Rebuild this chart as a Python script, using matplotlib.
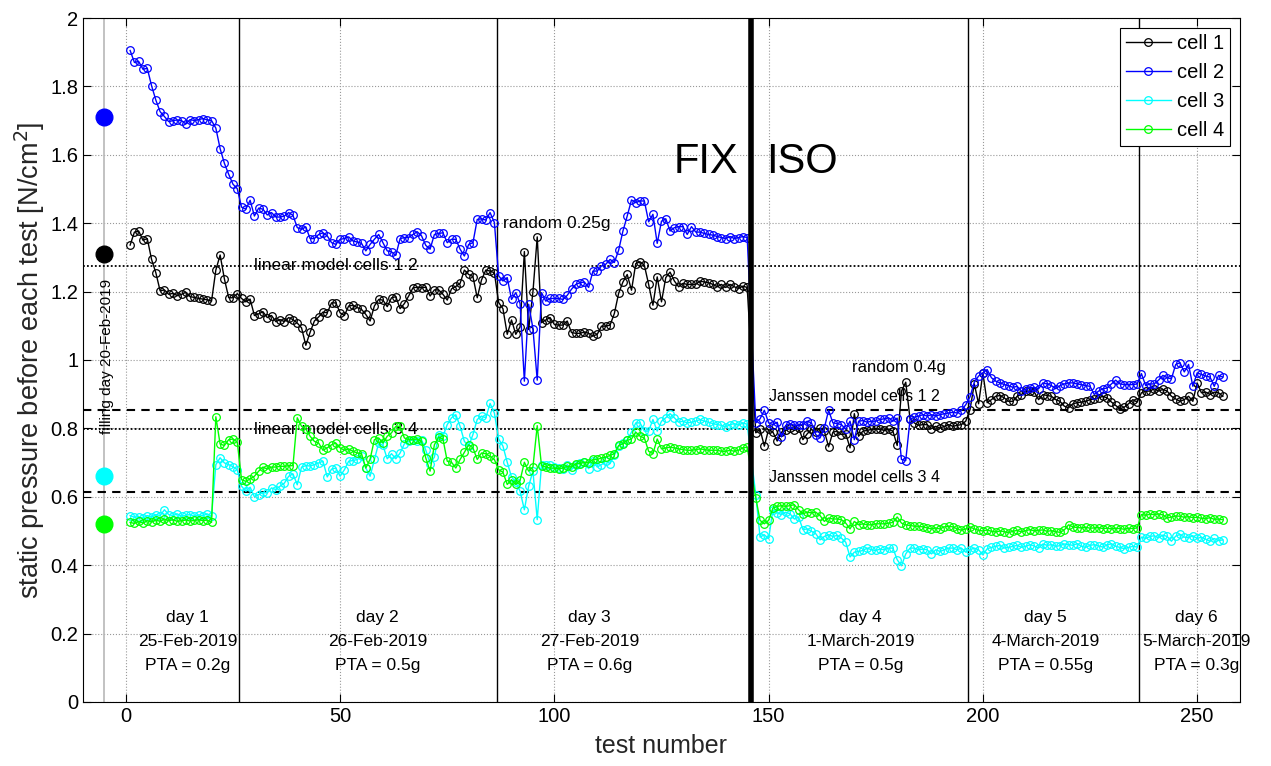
import numpy as np
import matplotlib
matplotlib.use("Agg")
import matplotlib.pyplot as plt

plt.rcParams['font.family'] = ['Liberation Sans', 'DejaVu Sans']

# test numbers covered by each test day (first, last)
day_ranges = [(1, 26), (27, 86), (87, 145), (147, 196), (197, 236), (237, 256)]

# static pressure per cell [N/cm^2], day by day
cell1 = [
    # day 1
    1.336, 1.374, 1.377, 1.350, 1.355, 1.294, 1.255, 1.202, 1.205, 1.192,
    1.195, 1.188, 1.192, 1.198, 1.185, 1.183, 1.180, 1.178, 1.176, 1.172,
    1.263, 1.307, 1.237, 1.182, 1.182, 1.194,
    # day 2
    1.180, 1.170, 1.178, 1.130, 1.135, 1.141, 1.124, 1.130, 1.112, 1.118,
    1.112, 1.124, 1.118, 1.108, 1.094, 1.043, 1.081, 1.114, 1.126, 1.140,
    1.138, 1.167, 1.167, 1.138, 1.130, 1.158, 1.160, 1.153, 1.148, 1.133,
    1.114, 1.158, 1.177, 1.175, 1.156, 1.182, 1.185, 1.150, 1.165, 1.187,
    1.211, 1.213, 1.211, 1.213, 1.187, 1.205, 1.205, 1.192, 1.175, 1.208,
    1.215, 1.224, 1.263, 1.250, 1.244, 1.182, 1.234, 1.263, 1.260, 1.255,
    # day 3
    1.168, 1.150, 1.075, 1.117, 1.075, 1.097, 1.317, 1.089, 1.199, 1.360,
    1.109, 1.117, 1.124, 1.104, 1.102, 1.102, 1.114, 1.080, 1.078, 1.078,
    1.082, 1.078, 1.070, 1.075, 1.099, 1.099, 1.102, 1.136, 1.195, 1.228,
    1.250, 1.204, 1.282, 1.287, 1.277, 1.221, 1.160, 1.243, 1.170, 1.241,
    1.257, 1.231, 1.214, 1.224, 1.221, 1.221, 1.221, 1.231, 1.228, 1.226,
    1.221, 1.214, 1.221, 1.212, 1.221, 1.214, 1.209, 1.216, 1.212,
    # day 4
    0.787, 0.797, 0.748, 0.797, 0.789, 0.763, 0.789, 0.794, 0.801, 0.794,
    0.801, 0.767, 0.784, 0.797, 0.789, 0.801, 0.792, 0.746, 0.789, 0.792,
    0.782, 0.784, 0.743, 0.843, 0.777, 0.792, 0.794, 0.797, 0.799, 0.797,
    0.794, 0.797, 0.792, 0.750, 0.909, 0.935, 0.828, 0.816, 0.809, 0.811,
    0.811, 0.799, 0.806, 0.801, 0.806, 0.811, 0.806, 0.809, 0.811, 0.821,
    # day 5
    0.855, 0.930, 0.872, 0.962, 0.875, 0.884, 0.894, 0.896, 0.889, 0.879,
    0.879, 0.894, 0.899, 0.909, 0.909, 0.906, 0.884, 0.899, 0.896, 0.894,
    0.884, 0.879, 0.865, 0.860, 0.872, 0.875, 0.877, 0.879, 0.884, 0.886,
    0.889, 0.894, 0.889, 0.877, 0.867, 0.857, 0.862, 0.872, 0.884, 0.877,
    # day 6
    0.904, 0.909, 0.909, 0.916, 0.909, 0.914, 0.909, 0.894, 0.886, 0.879,
    0.884, 0.894, 0.879, 0.933, 0.904, 0.906, 0.899, 0.906, 0.904, 0.894,
]

cell2 = [
    1.905, 1.870, 1.873, 1.850, 1.853, 1.802, 1.760, 1.726, 1.712, 1.697,
    1.700, 1.702, 1.700, 1.690, 1.703, 1.700, 1.703, 1.706, 1.702, 1.700,
    1.678, 1.618, 1.575, 1.543, 1.514, 1.501,
    1.447, 1.441, 1.467, 1.421, 1.444, 1.441, 1.424, 1.431, 1.418, 1.418,
    1.421, 1.431, 1.423, 1.387, 1.382, 1.389, 1.355, 1.355, 1.367, 1.372,
    1.363, 1.343, 1.338, 1.353, 1.355, 1.360, 1.348, 1.345, 1.341, 1.319,
    1.338, 1.353, 1.367, 1.343, 1.319, 1.316, 1.306, 1.355, 1.358, 1.358,
    1.367, 1.375, 1.363, 1.335, 1.324, 1.367, 1.370, 1.372, 1.343, 1.353,
    1.353, 1.324, 1.304, 1.338, 1.343, 1.411, 1.413, 1.409, 1.431, 1.402,
    1.246, 1.231, 1.241, 1.177, 1.197, 1.165, 0.938, 1.163, 1.092, 0.941,
    1.197, 1.172, 1.180, 1.180, 1.180, 1.177, 1.189, 1.207, 1.221, 1.226,
    1.228, 1.212, 1.260, 1.260, 1.275, 1.280, 1.294, 1.285, 1.321, 1.377,
    1.421, 1.468, 1.460, 1.465, 1.465, 1.404, 1.426, 1.341, 1.406, 1.413,
    1.377, 1.387, 1.390, 1.390, 1.367, 1.390, 1.374, 1.374, 1.370, 1.367,
    1.365, 1.361, 1.358, 1.355, 1.361, 1.355, 1.358, 1.361, 1.358,
    0.816, 0.828, 0.853, 0.816, 0.811, 0.818, 0.775, 0.809, 0.814, 0.809,
    0.809, 0.811, 0.821, 0.816, 0.782, 0.772, 0.801, 0.853, 0.816, 0.814,
    0.811, 0.797, 0.821, 0.767, 0.821, 0.823, 0.818, 0.821, 0.821, 0.826,
    0.828, 0.831, 0.821, 0.830, 0.709, 0.706, 0.826, 0.833, 0.836, 0.840,
    0.836, 0.840, 0.836, 0.840, 0.843, 0.845, 0.847, 0.845, 0.853, 0.869,
    0.892, 0.935, 0.953, 0.962, 0.972, 0.948, 0.938, 0.933, 0.928, 0.925,
    0.920, 0.923, 0.909, 0.914, 0.918, 0.920, 0.916, 0.933, 0.930, 0.925,
    0.916, 0.925, 0.930, 0.933, 0.933, 0.930, 0.928, 0.925, 0.923, 0.899,
    0.909, 0.916, 0.918, 0.930, 0.941, 0.930, 0.928, 0.928, 0.928, 0.930,
    0.960, 0.925, 0.930, 0.930, 0.941, 0.955, 0.948, 0.945, 0.987, 0.992,
    0.965, 0.987, 0.923, 0.962, 0.958, 0.953, 0.950, 0.923, 0.955, 0.950,
]

cell3 = [
    0.545, 0.540, 0.542, 0.538, 0.545, 0.540, 0.548, 0.545, 0.562, 0.548,
    0.545, 0.550, 0.543, 0.546, 0.548, 0.543, 0.547, 0.545, 0.550, 0.543,
    0.694, 0.714, 0.699, 0.694, 0.688, 0.679,
    0.631, 0.616, 0.628, 0.600, 0.606, 0.613, 0.611, 0.626, 0.621, 0.631,
    0.640, 0.660, 0.667, 0.635, 0.687, 0.691, 0.690, 0.694, 0.699, 0.704,
    0.658, 0.681, 0.684, 0.660, 0.679, 0.704, 0.706, 0.709, 0.718, 0.684,
    0.660, 0.709, 0.757, 0.750, 0.711, 0.726, 0.711, 0.728, 0.755, 0.762,
    0.767, 0.762, 0.767, 0.736, 0.697, 0.716, 0.782, 0.777, 0.811, 0.831,
    0.840, 0.806, 0.762, 0.748, 0.782, 0.826, 0.836, 0.831, 0.873, 0.845,
    0.769, 0.748, 0.701, 0.658, 0.643, 0.616, 0.562, 0.631, 0.675, 0.533,
    0.694, 0.694, 0.694, 0.687, 0.684, 0.682, 0.694, 0.679, 0.694, 0.699,
    0.701, 0.682, 0.704, 0.687, 0.694, 0.704, 0.697, 0.721, 0.748, 0.758,
    0.767, 0.789, 0.816, 0.816, 0.792, 0.792, 0.826, 0.792, 0.821, 0.831,
    0.843, 0.831, 0.818, 0.821, 0.816, 0.818, 0.821, 0.826, 0.821, 0.818,
    0.814, 0.811, 0.809, 0.804, 0.811, 0.814, 0.809, 0.816, 0.812,
    0.606, 0.482, 0.489, 0.477, 0.562, 0.553, 0.548, 0.555, 0.550, 0.535,
    0.541, 0.504, 0.506, 0.499, 0.492, 0.474, 0.484, 0.489, 0.484, 0.487,
    0.479, 0.467, 0.424, 0.438, 0.440, 0.443, 0.450, 0.445, 0.443, 0.447,
    0.445, 0.450, 0.450, 0.416, 0.398, 0.433, 0.450, 0.450, 0.445, 0.447,
    0.445, 0.433, 0.445, 0.440, 0.445, 0.450, 0.450, 0.445, 0.450, 0.438,
    0.445, 0.450, 0.445, 0.430, 0.448, 0.452, 0.455, 0.458, 0.450, 0.452,
    0.455, 0.458, 0.452, 0.455, 0.460, 0.456, 0.450, 0.462, 0.458, 0.460,
    0.455, 0.457, 0.462, 0.460, 0.458, 0.463, 0.455, 0.452, 0.458, 0.460,
    0.456, 0.453, 0.459, 0.463, 0.455, 0.452, 0.448, 0.452, 0.455, 0.453,
    0.482, 0.478, 0.484, 0.486, 0.480, 0.488, 0.484, 0.470, 0.485, 0.490,
    0.482, 0.480, 0.486, 0.478, 0.482, 0.476, 0.470, 0.478, 0.472, 0.474,
]

cell4 = [
    0.525, 0.522, 0.528, 0.523, 0.530, 0.526, 0.532, 0.528, 0.535, 0.530,
    0.533, 0.528, 0.530, 0.532, 0.529, 0.531, 0.533, 0.530, 0.532, 0.525,
    0.834, 0.754, 0.750, 0.767, 0.769, 0.760,
    0.650, 0.645, 0.652, 0.660, 0.675, 0.687, 0.681, 0.687, 0.687, 0.689,
    0.689, 0.691, 0.691, 0.831, 0.806, 0.798, 0.777, 0.762, 0.757, 0.736,
    0.743, 0.752, 0.757, 0.743, 0.736, 0.740, 0.733, 0.728, 0.726, 0.684,
    0.710, 0.767, 0.772, 0.757, 0.777, 0.787, 0.806, 0.806, 0.772, 0.767,
    0.767, 0.769, 0.762, 0.713, 0.675, 0.752, 0.775, 0.769, 0.704, 0.701,
    0.684, 0.709, 0.730, 0.752, 0.743, 0.709, 0.728, 0.726, 0.718, 0.709,
    0.679, 0.672, 0.636, 0.650, 0.636, 0.648, 0.701, 0.675, 0.687, 0.808,
    0.691, 0.687, 0.684, 0.684, 0.682, 0.684, 0.689, 0.687, 0.697, 0.697,
    0.701, 0.699, 0.709, 0.709, 0.714, 0.716, 0.721, 0.726, 0.750, 0.755,
    0.765, 0.769, 0.789, 0.777, 0.772, 0.733, 0.726, 0.769, 0.740, 0.743,
    0.745, 0.743, 0.740, 0.738, 0.736, 0.736, 0.738, 0.740, 0.738, 0.736,
    0.736, 0.736, 0.733, 0.733, 0.736, 0.733, 0.736, 0.743, 0.745,
    0.597, 0.531, 0.521, 0.531, 0.567, 0.572, 0.574, 0.572, 0.574, 0.577,
    0.562, 0.550, 0.555, 0.553, 0.555, 0.545, 0.528, 0.538, 0.535, 0.535,
    0.533, 0.523, 0.506, 0.528, 0.518, 0.521, 0.518, 0.518, 0.521, 0.521,
    0.521, 0.523, 0.525, 0.541, 0.523, 0.518, 0.516, 0.514, 0.514, 0.512,
    0.509, 0.506, 0.509, 0.506, 0.512, 0.514, 0.512, 0.506, 0.502, 0.506,
    0.512, 0.506, 0.502, 0.500, 0.503, 0.499, 0.497, 0.500, 0.498, 0.495,
    0.499, 0.502, 0.497, 0.501, 0.504, 0.500, 0.502, 0.503, 0.499, 0.501,
    0.498, 0.496, 0.503, 0.518, 0.512, 0.510, 0.509, 0.511, 0.508, 0.509,
    0.510, 0.507, 0.508, 0.506, 0.508, 0.507, 0.505, 0.508, 0.507, 0.509,
    0.548, 0.546, 0.549, 0.548, 0.550, 0.547, 0.538, 0.541, 0.544, 0.543,
    0.540, 0.542, 0.539, 0.540, 0.537, 0.536, 0.539, 0.534, 0.535, 0.533,
]

# pressure right after filling (20-Feb-2019), cells 1..4
filling = [1.31, 1.71, 0.66, 0.52]
filling_test = -5

# model levels
linear_12 = 1.275
linear_34 = 0.797
janssen_12 = 0.853
janssen_34 = 0.615

day_names = ['day 1', 'day 2', 'day 3', 'day 4', 'day 5', 'day 6']
day_dates = ['25-Feb-2019', '26-Feb-2019', '27-Feb-2019', '1-March-2019',
             '4-March-2019', '5-March-2019']
day_pta = ['PTA = 0.2g', 'PTA = 0.5g', 'PTA = 0.6g', 'PTA = 0.5g',
           'PTA = 0.55g', 'PTA = 0.3g']

cell_names = ['cell 1', 'cell 2', 'cell 3', 'cell 4']
cell_colors = ['k', (0, 0, 1), (0, 1, 1), (0, 1, 0)]

test_no = np.concatenate([np.arange(a, b + 1) for a, b in day_ranges])

fig = plt.figure(figsize=(12.71, 7.66), dpi=100)
ax = fig.add_axes([0.0653, 0.0836, 0.9103, 0.8929])

# filling day marker line and dots
ax.axvline(filling_test, color=(0.72, 0.72, 0.72), lw=1.2, zorder=1)
for val, col in zip(filling, cell_colors):
    ax.plot(filling_test, val, 'o', color=col, markersize=12, zorder=3)
ax.text(filling_test + 0.6, 1.01, 'filling day 20-Feb-2019', rotation=90,
        ha='center', va='center', fontsize=11)

# model reference levels
ax.axhline(linear_12, color='k', ls=(0, (1, 1.2)), lw=1.3)
ax.axhline(linear_34, color='k', ls=(0, (1, 1.2)), lw=1.3)
ax.axhline(janssen_12, color='k', ls=(0, (4, 3)), lw=1.5)
ax.axhline(janssen_34, color='k', ls=(0, (4, 3)), lw=1.5)
ax.text(30, linear_12, 'linear model cells 1 2', fontsize=12.5, va='center')
ax.text(30, linear_34, 'linear model cells 3 4', fontsize=12.5, va='center')
ax.text(150, janssen_12 + 0.04, 'Janssen model cells 1 2', fontsize=11.5, va='center')
ax.text(150, janssen_34 + 0.04, 'Janssen model cells 3 4', fontsize=11.5, va='center')

# day separators, the thick one splits FIX and ISO tests
bounds = [(day_ranges[i][1] + day_ranges[i + 1][0]) / 2 for i in range(len(day_ranges) - 1)]
for i, b in enumerate(bounds):
    ax.axvline(b, color='k', lw=4 if i == 2 else 1, zorder=4 if i == 2 else 2)

for name, vals, col in zip(cell_names, [cell1, cell2, cell3, cell4], cell_colors):
    ax.plot(test_no, vals, '-o', color=col, markerfacecolor='none',
            markersize=5.5, lw=1, mew=0.9, label=name, zorder=3)

ax.text(88, 1.40, 'random 0.25g', fontsize=12.5, va='center')
ax.text(169.5, 0.978, 'random 0.4g', fontsize=12, va='center')
ax.text(142.8, 1.58, 'FIX', fontsize=30, ha='right', va='center')
ax.text(149.5, 1.58, 'ISO', fontsize=30, ha='left', va='center')

label_x = [14.4, 58.7, 108.2, 171.4, 214.6, 249.8]
for x, n, d, p in zip(label_x, day_names, day_dates, day_pta):
    ax.text(x, 0.248, n, ha='center', va='center', fontsize=12.5)
    ax.text(x, 0.178, d, ha='center', va='center', fontsize=12.5)
    ax.text(x, 0.108, p, ha='center', va='center', fontsize=12.5)

ax.set_xlim(-10, 260)
ax.set_ylim(0, 2)
ax.set_xticks(np.arange(0, 251, 50))
ax.set_yticks(np.arange(0, 2.01, 0.2))
ax.set_yticklabels(['0', '0.2', '0.4', '0.6', '0.8', '1', '1.2', '1.4', '1.6', '1.8', '2'])
ax.tick_params(direction='in', top=True, right=True, labelsize=14.5, length=6, width=0.8)
ax.grid(True, ls=':', color=(0.6, 0.6, 0.6), lw=0.8)
ax.set_axisbelow(True)
for s in ax.spines.values():
    s.set_linewidth(0.8)
ax.set_xlabel('test number', fontsize=18, labelpad=6, color=(0.15, 0.15, 0.15))
ax.set_ylabel('static pressure before each test [N/cm$^2$]', fontsize=19.5,
              labelpad=2, color=(0.15, 0.15, 0.15))

leg = ax.legend(loc='upper right', fontsize=14.5, numpoints=1, fancybox=False,
                edgecolor='k', framealpha=1, borderaxespad=0.5, handlelength=2.2,
                handletextpad=0.3, labelspacing=0.5, borderpad=0.3)
leg.get_frame().set_linewidth(0.8)

fig.savefig('out.png', dpi=100)
